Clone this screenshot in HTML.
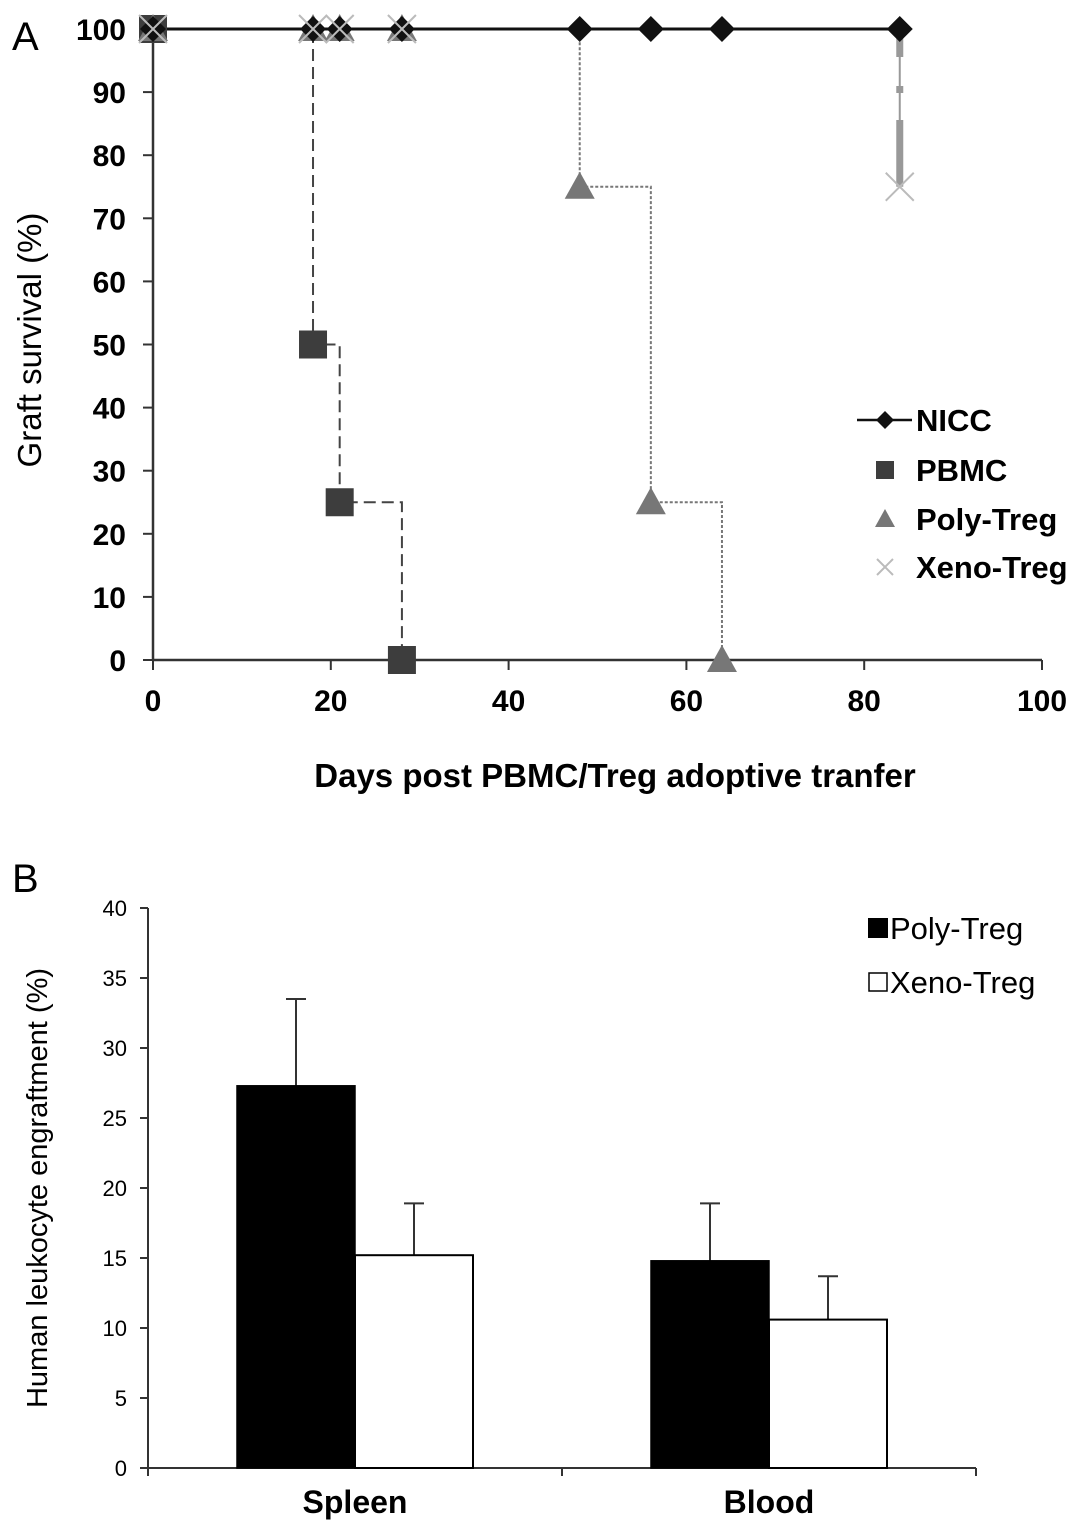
<!DOCTYPE html>
<html><head><meta charset="utf-8"><style>
html,body{margin:0;padding:0;background:#fff;}
svg{display:block;font-family:"Liberation Sans",Arial,sans-serif;}
</style></head><body>
<svg id="fig" width="1087" height="1533" viewBox="0 0 1087 1533" xmlns="http://www.w3.org/2000/svg">
<g id="panelA"></g>
<g id="panelB"></g>
</svg>
<script>
// Panel A data
const aXTicks = [0,20,40,60,80,100];
const aYTicks = [0,10,20,30,40,50,60,70,80,90,100];
const niccDays = [0,18,21,28,48,56,64,84];
const niccVals = [100,100,100,100,100,100,100,100];
const pbmcDays = [0,18,21,28];
const pbmcVals = [100,50,25,0];
const polyDays = [0,18,21,28,48,56,64];
const polyVals = [100,100,100,100,75,25,0];
const xenoDays = [0,18,21,28,84];
const xenoVals = [100,100,100,100,75];
// Panel B data
const bCategories = ["Spleen","Blood"];
const bYTicks = [0,5,10,15,20,25,30,35,40];
const polyMeans = [27.3,14.8];
const polyErr = [6.2,4.1];
const xenoMeans = [15.2,10.6];
const xenoErr = [3.7,3.1];

const NS="http://www.w3.org/2000/svg";
function mk(parent,tag,attrs,text){const e=document.createElementNS(NS,tag);for(const k in attrs)e.setAttribute(k,attrs[k]);if(text!==undefined)e.textContent=text;parent.appendChild(e);return e;}

// ---------- Panel A ----------
const A=document.getElementById('panelA');
const ax=d=>153+d*(1042-153)/100;
const ay=v=>660-v*(660-29)/100;
let t=mk(A,'text',{x:12,y:50,'font-size':40},'A');

let l=mk(A,'line',{x1:153,y1:29,x2:153,y2:660,stroke:'#333','stroke-width':2.5});

l=mk(A,'line',{x1:153,y1:660,x2:1042,y2:660,stroke:'#333','stroke-width':2.5});

aYTicks.forEach(v=>{
  const m=mk(A,'line',{x1:143,y1:ay(v),x2:153,y2:ay(v),stroke:'#333','stroke-width':2});
  
  const tx=mk(A,'text',{x:126,y:ay(v)+11,'font-size':30,'font-weight':'bold','text-anchor':'end'},String(v));
  
});
aXTicks.forEach(v=>{
  const m=mk(A,'line',{x1:ax(v),y1:660,x2:ax(v),y2:670,stroke:'#333','stroke-width':2});
  
  const tx=mk(A,'text',{x:ax(v),y:711,'font-size':30,'font-weight':'bold','text-anchor':'middle'},String(v));
  
});
t=mk(A,'text',{x:615,y:787,'font-size':33,'font-weight':'bold','text-anchor':'middle'},'Days post PBMC/Treg adoptive tranfer');

t=mk(A,'text',{x:0,y:0,'font-size':33,'text-anchor':'middle',transform:'translate(41,340) rotate(-90)'},'Graft survival (%)');


function stepPath(days,vals){let d=`M${ax(days[0])},${ay(vals[0])}`;for(let i=1;i<days.length;i++){d+=` H${ax(days[i])} V${ay(vals[i])}`;}return d;}
let p=mk(A,'path',{d:stepPath(xenoDays,xenoVals),fill:'none',stroke:'#999','stroke-width':2});

for(let i=1;i<xenoDays.length;i++){
  if(xenoVals[i]!==xenoVals[i-1]){
    const dr=mk(A,'line',{x1:ax(xenoDays[i]),y1:ay(xenoVals[i-1]),x2:ax(xenoDays[i]),y2:ay(xenoVals[i]),stroke:'#999','stroke-width':7,'stroke-dasharray':'28,29,7,27,300'});
    
  }
}
p=mk(A,'path',{d:stepPath(polyDays,polyVals),fill:'none',stroke:'#777','stroke-width':2,'stroke-dasharray':'3,2'});

p=mk(A,'path',{d:stepPath(pbmcDays,pbmcVals),fill:'none',stroke:'#444','stroke-width':2,'stroke-dasharray':'12,6'});

p=mk(A,'path',{d:stepPath(niccDays,niccVals),fill:'none',stroke:'#111','stroke-width':3});

pbmcDays.forEach((d,i)=>{const r=mk(A,'rect',{x:ax(d)-14,y:ay(pbmcVals[i])-14,width:28,height:28,fill:'#3d3d3d'});
 });
polyDays.forEach((d,i)=>{const x=ax(d),y=ay(polyVals[i]);const r=mk(A,'polygon',{points:`${x},${y-15} ${x+15},${y+12} ${x-15},${y+12}`,fill:'#777'});
 });
niccDays.forEach((d,i)=>{const x=ax(d),y=ay(niccVals[i]);const r=mk(A,'polygon',{points:`${x},${y-13} ${x+13},${y} ${x},${y+13} ${x-13},${y}`,fill:'#111'});
 });
xenoDays.forEach((d,i)=>{const x=ax(d),y=ay(xenoVals[i]);const r=mk(A,'path',{d:`M${x-14},${y-14}L${x+14},${y+14}M${x+14},${y-14}L${x-14},${y+14}`,stroke:'#bbb','stroke-width':2});
 });
const lg=mk(A,'g',{});
mk(lg,'line',{x1:857,y1:420,x2:912,y2:420,stroke:'#111','stroke-width':2.5});
mk(lg,'polygon',{points:'885,411 894,420 885,429 876,420',fill:'#111'});
mk(lg,'rect',{x:876,y:461,width:18,height:18,fill:'#3d3d3d'});
mk(lg,'polygon',{points:'885,509 895,527 875,527',fill:'#777'});
mk(lg,'path',{d:'M877,559L893,575M893,559L877,575',stroke:'#bbb','stroke-width':2});
[['NICC',431],['PBMC',481],['Poly-Treg',530],['Xeno-Treg',578]].forEach(([s,y])=>{
 const tx=mk(lg,'text',{x:916,y:y,'font-size':31,'font-weight':'bold'},s);
 });

// ---------- Panel B ----------
const B=document.getElementById('panelB');
const by=v=>1468-v*14;
t=mk(B,'text',{x:12,y:892,'font-size':40},'B');

l=mk(B,'line',{x1:148,y1:908,x2:148,y2:1468,stroke:'#333','stroke-width':2});

l=mk(B,'line',{x1:148,y1:1468,x2:976,y2:1468,stroke:'#333','stroke-width':2});

bYTicks.forEach(v=>{
 const m=mk(B,'line',{x1:140,y1:by(v),x2:148,y2:by(v),stroke:'#333','stroke-width':2});
 
 const tx=mk(B,'text',{x:127,y:by(v)+8,'font-size':22,'text-anchor':'end'},String(v));
 
});
[148,562,976].forEach(x=>{const m=mk(B,'line',{x1:x,y1:1468,x2:x,y2:1476,stroke:'#333','stroke-width':2});
 });
t=mk(B,'text',{x:0,y:0,'font-size':29,'text-anchor':'middle',transform:'translate(47,1188) rotate(-90)'},'Human leukocyte engraftment (%)');

const groupW=414, barW=118;
bCategories.forEach((c,i)=>{
 const cx=148+groupW*(i+0.5);
 const tx=mk(B,'text',{x:cx,y:1513,'font-size':32,'font-weight':'bold','text-anchor':'middle'},c);
 
 [[polyMeans,polyErr,cx-barW/2],[xenoMeans,xenoErr,cx+barW/2]].forEach(([m,e,x])=>{
  const eb=mk(B,'path',{d:`M${x},${by(m[i])}V${by(m[i]+e[i])}M${x-10},${by(m[i]+e[i])}H${x+10}`,stroke:'#333','stroke-width':2,fill:'none'});
  
 });
 const r1=mk(B,'rect',{x:cx-barW,y:by(polyMeans[i]),width:barW,height:polyMeans[i]*14,fill:'#000',stroke:'#000','stroke-width':1.5});
 
 const r2=mk(B,'rect',{x:cx,y:by(xenoMeans[i]),width:barW,height:xenoMeans[i]*14,fill:'#fff',stroke:'#000','stroke-width':2});
 
});
const lb=mk(B,'g',{});
mk(lb,'rect',{x:868,y:918,width:20,height:20,fill:'#000'});
mk(lb,'rect',{x:869,y:973,width:18,height:18,fill:'#fff',stroke:'#000','stroke-width':1.5});
t=mk(lb,'text',{x:890,y:939,'font-size':31},'Poly-Treg');
t=mk(lb,'text',{x:890,y:993,'font-size':31},'Xeno-Treg');
</script>
</body></html>
